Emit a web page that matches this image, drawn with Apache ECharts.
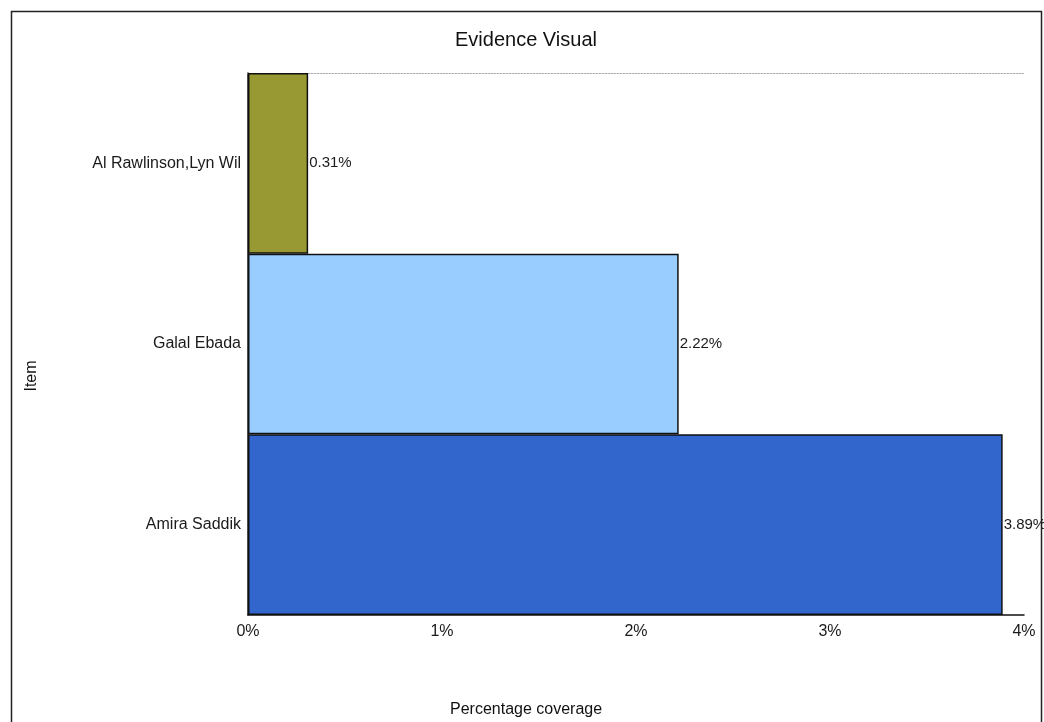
<!DOCTYPE html>
<html>
<head>
<meta charset="utf-8">
<style>
  html, body { margin: 0; padding: 0; background: #ffffff; }
  #chart { width: 1044px; height: 722px; }
</style>
<script src="https://cdn.jsdelivr.net/npm/echarts@6/dist/echarts.min.js"></script>
</head>
<body>
<div id="chart"></div>
<script>
// Items listed top to bottom, with their coverage in percent
const categories = ['Al Rawlinson,Lyn Wil', 'Galal Ebada', 'Amira Saddik'];
const coverage = [0.31, 2.22, 3.89];
const barColors = ['#999933', '#99ccff', '#3366cc'];
const xTicks = [0, 1, 2, 3, 4];

const FONT = '"Liberation Sans", Arial, sans-serif';

const chart = echarts.init(document.getElementById('chart'), null, { renderer: 'canvas' });

chart.setOption({
  backgroundColor: '#ffffff',
  animation: false,
  textStyle: { fontFamily: FONT },
  title: [
    {
      text: 'Evidence Visual',
      left: 450,
      top: 25,
      textStyle: { fontFamily: FONT, fontSize: 20, fontWeight: 'normal', color: '#111111' }
    },
    {
      text: 'Percentage coverage',
      left: 445,
      top: 697,
      textStyle: { fontFamily: FONT, fontSize: 16, fontWeight: 'normal', color: '#111111' }
    }
  ],
  graphic: [
    {
      type: 'rect',
      shape: { x: 11.5, y: 11.5, width: 1030, height: 730 },
      style: { fill: 'none', stroke: '#222222', lineWidth: 1.5 },
      z: -1
    },
    {
      type: 'text',
      x: 32,
      y: 376,
      rotation: Math.PI / 2,
      style: {
        text: 'Item',
        font: '16px ' + FONT,
        fill: '#111111',
        align: 'center',
        verticalAlign: 'middle'
      }
    }
  ],
  grid: { left: 248, right: 20, top: 73, bottom: 107, containLabel: false },
  xAxis: [
    {
      type: 'value',
      position: 'bottom',
      min: xTicks[0],
      max: xTicks[xTicks.length - 1],
      interval: 1,
      axisLine: { show: true, lineStyle: { color: '#111111', width: 1.5 } },
      axisTick: { show: false },
      splitLine: { show: false },
      axisLabel: {
        formatter: '{value}%',
        fontFamily: FONT,
        fontSize: 16,
        color: '#1a1a1a',
        margin: 9
      }
    },
    {
      type: 'value',
      position: 'top',
      min: xTicks[0],
      max: xTicks[xTicks.length - 1],
      interval: 1,
      axisLine: { show: true, lineStyle: { color: '#aaaaaa', width: 1, type: [1.5, 1.5] } },
      axisTick: { show: false },
      splitLine: { show: false },
      axisLabel: { show: false }
    }
  ],
  yAxis: {
    type: 'category',
    data: categories,
    inverse: true,
    axisLine: { show: true, lineStyle: { color: '#111111', width: 1.5 } },
    axisTick: { show: false },
    splitLine: { show: false },
    axisLabel: {
      fontFamily: FONT,
      fontSize: 16,
      color: '#1a1a1a',
      margin: 7,
      padding: [3, 0, 0, 0]
    }
  },
  series: [
    {
      type: 'bar',
      xAxisIndex: 0,
      barCategoryGap: '0%',
      z: 3,
      data: coverage.map((v, i) => ({
        value: v,
        itemStyle: { color: barColors[i], borderColor: '#111111', borderWidth: 1.5 }
      })),
      label: {
        show: true,
        position: 'right',
        distance: 1,
        formatter: (p) => p.value.toFixed(2) + '%',
        fontFamily: FONT,
        fontSize: 15,
        color: '#1a1a1a',
        padding: [3, 0, 0, 0]
      }
    }
  ]
});
</script>
</body>
</html>
